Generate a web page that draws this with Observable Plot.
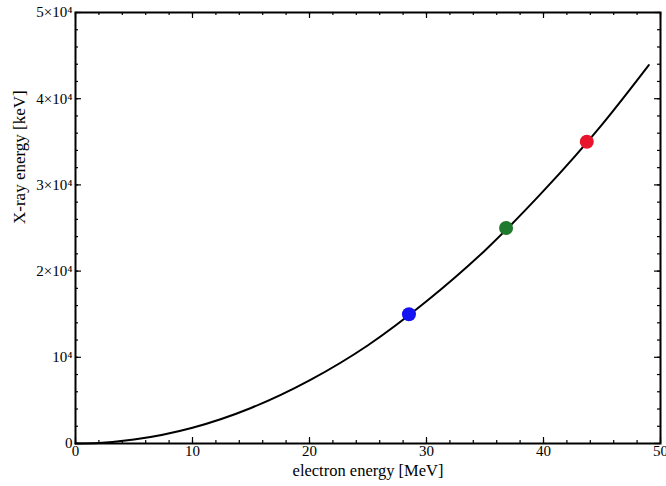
<!DOCTYPE html>
<html><head><meta charset="utf-8">
<script src="https://cdn.jsdelivr.net/npm/d3@7"></script>
<script src="https://cdn.jsdelivr.net/npm/@observablehq/plot@0.6"></script>
<style>body{margin:0;background:#fff}</style>
</head><body><div id="chart"></div>
<script>
// curve: electron energy [MeV] vs X-ray energy [keV]
const curveE = [0, 2, 5, 10, 15, 20, 25, 30, 35, 40, 45, 49];
const curveX = [0, 70, 460, 1830, 4120, 7320, 11400, 16500, 22400, 29300, 37000, 43900];
// highlighted points
const pointE = [28.5, 36.8, 43.7];
const pointX = [15000, 25000, 35000];
const pointColor = ["#1414f2", "#1f7a2e", "#e8142c"];
// ticks
const xMajor = [0, 10, 20, 30, 40, 50];
const xMinor = d3.range(0, 51, 2);
const yMajor = [0, 10000, 20000, 30000, 40000, 50000];
const yMinor = d3.range(0, 50001, 2000);
const xTickLabels = ["0", "10", "20", "30", "40", "50"];
const yTickLabels = ["0", "10\u2074", "2\u00d710\u2074", "3\u00d710\u2074", "4\u00d710\u2074", "5\u00d710\u2074"];
const xLabel = "electron energy [MeV]";
const yLabel = "X-ray energy [keV]";

const curve = curveE.map((e, i) => ({e, x: curveX[i]}));
const points = pointE.map((e, i) => ({e, x: pointX[i], c: pointColor[i]}));

const W = 666, H = 486, mL = 75, mR = 6, mT = 12, mB = 43;
const fw = W - mL - mR, fh = H - mT - mB;
const tickStyle = {stroke: "black", strokeWidth: 1.2};
const chart = Plot.plot({
  width: W, height: H,
  marginLeft: mL, marginRight: mR, marginTop: mT, marginBottom: mB,
  style: {fontFamily: "'Liberation Serif', 'Times New Roman', serif", fontSize: "15px", color: "black", background: "white"},
  x: {domain: [0, 50], axis: null},
  y: {domain: [0, 50000], axis: null},
  marks: [
    Plot.line(curve, {x: "e", y: "x", curve: "monotone-x", stroke: "black", strokeWidth: 2}),
    Plot.dot(points, {x: "e", y: "x", r: 7, fill: "c", stroke: "none"}),
    // inward ticks on all four sides
    Plot.tickX(xMajor, {x: d => d, insetTop: fh - 6, ...tickStyle}),
    Plot.tickX(xMinor, {x: d => d, insetTop: fh - 3, ...tickStyle}),
    Plot.tickX(xMajor, {x: d => d, insetBottom: fh - 6, ...tickStyle}),
    Plot.tickX(xMinor, {x: d => d, insetBottom: fh - 3, ...tickStyle}),
    Plot.tickY(yMajor, {y: d => d, insetRight: fw - 6, ...tickStyle}),
    Plot.tickY(yMinor, {y: d => d, insetRight: fw - 3, ...tickStyle}),
    Plot.tickY(yMajor, {y: d => d, insetLeft: fw - 6, ...tickStyle}),
    Plot.tickY(yMinor, {y: d => d, insetLeft: fw - 3, ...tickStyle}),
    Plot.frame({stroke: "black", strokeWidth: 2}),
    // tick labels
    Plot.text(xMajor, {x: d => d, frameAnchor: "bottom", dy: 12, text: (d, i) => xTickLabels[i], fontSize: 15, fill: "black"}),
    Plot.text(yMajor, {y: d => d, frameAnchor: "left", dx: -3, textAnchor: "end", text: (d, i) => yTickLabels[i], fontSize: 15, fill: "black"}),
    // axis titles
    Plot.text([xLabel], {frameAnchor: "bottom", dy: 32, text: d => d, fontSize: 16.5, fill: "black"}),
    Plot.text([yLabel], {frameAnchor: "left", dx: -56, dy: -4, rotate: -90, text: d => d, fontSize: 17, fill: "black"})
  ]
});
document.getElementById("chart").append(chart);
</script>
</body></html>
